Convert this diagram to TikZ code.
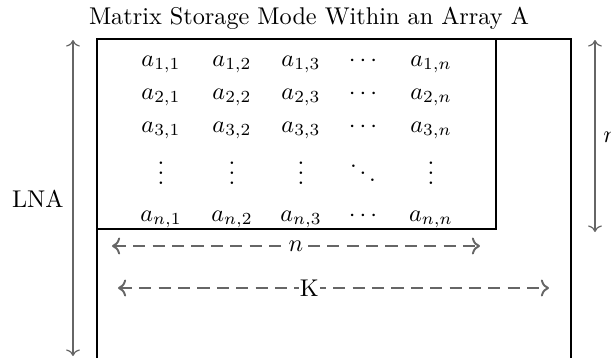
\documentclass[tikz,border=0pt]{standalone}
\usetikzlibrary{arrows.meta}
\begin{document}
\begin{tikzpicture}[x=0.4126pt,y=-0.4126pt,
  box/.style={line width=1.2pt},
  dimarrow/.style={draw=black!60, line width=0.5pt, <->},
  dasharrow/.style={draw=black!60, line width=0.8pt, dash pattern=on 5pt off 3pt, <->},
  entry/.style={inner sep=0pt, anchor=base}]
\clip (0,0) rectangle (611,358);
\useasboundingbox (0,0) rectangle (611,358);
\node[anchor=base] (title) at (309,24) {Matrix Storage Mode Within an Array A};
% boxes
\coordinate (otl) at (97,39);
\coordinate (obr) at (571,380);
\coordinate (ibr) at (496,229);
\draw[box] (otl) rectangle (obr);
\draw[box] (otl) rectangle (ibr);
% matrix
\foreach \c/\x in {1/161,2/232,3/301} {
  \node[entry] (m1\c) at (\x,66) {$a_{1,\c}$};
  \node[entry] (m2\c) at (\x,99) {$a_{2,\c}$};
  \node[entry] (m3\c) at (\x,132) {$a_{3,\c}$};
  \node[entry] (md\c) at (\x,184) {$\vdots$};
  \node[entry] (mn\c) at (\x,221) {$a_{n,\c}$};
}
\node[entry] (m14) at (363,66) {$\cdots$};
\node[entry] (m24) at (363,99) {$\cdots$};
\node[entry] (m34) at (363,132) {$\cdots$};
\node[entry] (md4) at (363,184) {$\ddots$};
\node[entry] (mn4) at (363,221) {$\cdots$};
\node[entry] (m15) at (431,66) {$a_{1,n}$};
\node[entry] (m25) at (431,99) {$a_{2,n}$};
\node[entry] (m35) at (431,132) {$a_{3,n}$};
\node[entry] (md5) at (431,184) {$\vdots$};
\node[entry] (mn5) at (431,221) {$a_{n,n}$};
% LNA arrow
\coordinate (lt) at (73,40);
\coordinate (lb) at (73,356);
\draw[dimarrow] (lt) -- (lb);
\node[anchor=base east, inner sep=0pt] (lna) at (64,207) {LNA};
% right n arrow
\coordinate (rt) at (595,40);
\coordinate (rb) at (595,232);
\draw[dimarrow] (rt) -- (rb);
\node[anchor=west, inner sep=0pt] (rn) at (603,137) {$n$};
% n dashed arrow
\coordinate (na) at (112,246);
\coordinate (nb) at (480,246);
\draw[dasharrow] (na) -- node[fill=white, text=black, inner sep=2pt] (nlab) {$n$} (nb);
% K dashed arrow
\coordinate (ka) at (118,288);
\coordinate (kb) at (549,288);
\draw[dasharrow] (ka) -- node[fill=white, text=black, inner sep=0.5pt, xshift=-10pt] (klab) {K} (kb);
\end{tikzpicture}
\end{document}
